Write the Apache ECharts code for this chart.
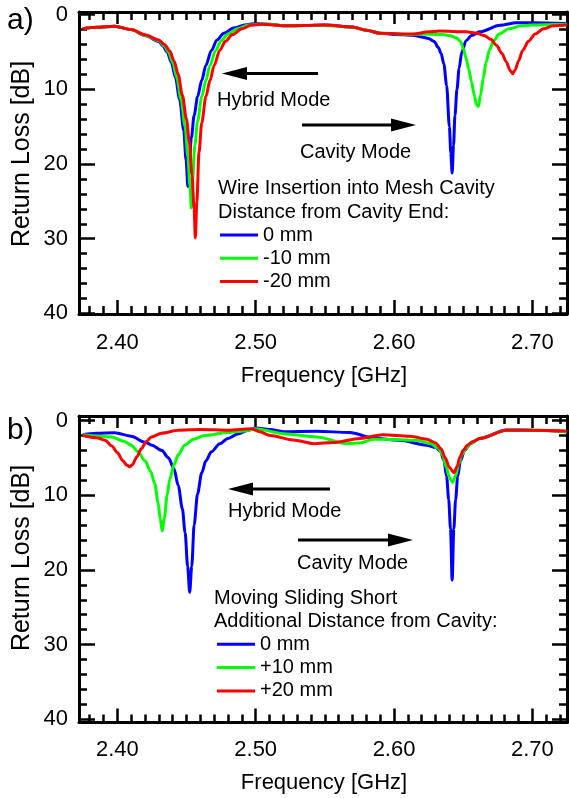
<!DOCTYPE html>
<html><head><meta charset="utf-8">
<script src="https://cdn.jsdelivr.net/npm/echarts@6/dist/echarts.min.js"></script>
<style>html,body{margin:0;padding:0;background:#fff}#c{width:569px;height:798px}</style>
</head><body><div id="c"></div>
<script>
// ---- Data (frequency GHz, return loss dB) ----
const xTicksMajor = [2.40, 2.50, 2.60, 2.70];
const xTicksMinor = [2.38,2.39,2.41,2.42,2.43,2.44,2.45,2.46,2.47,2.48,2.49,2.51,2.52,2.53,2.54,2.55,2.56,2.57,2.58,2.59,2.61,2.62,2.63,2.64,2.65,2.66,2.67,2.68,2.69,2.71,2.72];
const yTicksMajor = [0, 10, 20, 30, 40];
const yTicksMinor = [2,4,6,8,12,14,16,18,22,24,26,28,32,34,36,38];

const namesA = ['0 mm', '-10 mm', '-20 mm'];
const namesB = ['0 mm', '+10 mm', '+20 mm'];

// Panel a) wire insertion
const a_0mm = [[2.375,1.9],[2.385,1.7],[2.398,1.55],[2.410,2.0],[2.420,2.8],[2.430,3.6],[2.433,4.2],[2.436,5.0],[2.439,6.4],[2.442,8.4],[2.445,11.3],[2.448,15.5],[2.4497,19.5],[2.451,23.0],[2.452,20],[2.4535,16.5],[2.4555,13.5],[2.458,11],[2.461,8.8],[2.464,6.8],[2.468,4.8],[2.472,3.4],[2.477,2.5],[2.484,1.8],[2.492,1.4],[2.50,1.2],[2.51,1.3],[2.52,1.5],[2.535,1.45],[2.55,1.4],[2.57,1.65],[2.58,2.1],[2.59,2.5],[2.60,2.65],[2.6137,2.76],[2.620,3.0],[2.625,3.2],[2.629,3.6],[2.632,4.4],[2.634,5.2],[2.636,6.6],[2.638,9.5],[2.640,15],[2.641,18.5],[2.642,21.2],[2.643,17.5],[2.644,13.5],[2.6455,10],[2.647,7.2],[2.649,5.0],[2.652,3.5],[2.656,2.8],[2.662,2.3],[2.6766,1.43],[2.6886,1.1],[2.70,1.1],[2.725,1.2]];
const a_m10mm = [[2.375,1.9],[2.385,1.7],[2.398,1.55],[2.410,2.0],[2.420,2.75],[2.430,3.5],[2.434,4.2],[2.437,5.0],[2.440,6.4],[2.443,8.4],[2.446,11.3],[2.449,15],[2.451,19],[2.4525,23],[2.4535,25.9],[2.4545,22],[2.456,17.5],[2.458,14.3],[2.461,11],[2.464,8.8],[2.467,6.8],[2.471,4.8],[2.475,3.5],[2.480,2.6],[2.487,1.9],[2.495,1.4],[2.503,1.25],[2.51,1.3],[2.52,1.5],[2.535,1.45],[2.55,1.45],[2.57,1.7],[2.58,2.1],[2.59,2.5],[2.61,2.65],[2.62,2.6],[2.635,2.65],[2.640,2.8],[2.645,3.1],[2.648,3.6],[2.650,4.5],[2.652,5.8],[2.654,7.3],[2.656,9.0],[2.658,10.8],[2.6595,12.0],[2.661,12.3],[2.6625,10.8],[2.6645,8.5],[2.6665,6.4],[2.669,4.7],[2.672,3.5],[2.676,2.6],[2.683,1.9],[2.692,1.5],[2.70,1.4],[2.725,1.3]];
const a_m20mm = [[2.375,1.9],[2.385,1.7],[2.398,1.55],[2.410,2.0],[2.420,2.7],[2.430,3.4],[2.434,4.0],[2.438,4.9],[2.441,6.2],[2.444,8.0],[2.447,10.8],[2.450,14.0],[2.452,17.0],[2.454,21.5],[2.4555,26],[2.4564,29.9],[2.4575,25],[2.459,18.5],[2.461,14.5],[2.464,11.0],[2.467,8.8],[2.470,6.8],[2.474,4.8],[2.478,3.6],[2.483,2.7],[2.490,1.9],[2.497,1.4],[2.505,1.3],[2.52,1.5],[2.535,1.45],[2.55,1.4],[2.57,1.65],[2.58,2.1],[2.59,2.5],[2.6137,2.6],[2.625,2.3],[2.633,2.2],[2.652,2.3],[2.660,2.5],[2.665,2.8],[2.670,3.3],[2.674,4.1],[2.678,5.2],[2.681,6.3],[2.684,7.5],[2.6857,7.9],[2.6875,7.4],[2.690,6.2],[2.693,4.8],[2.697,3.6],[2.702,2.6],[2.708,1.9],[2.715,1.5],[2.725,1.4]];

// Panel b) sliding short
const b_0mm = [[2.375,1.9],[2.385,1.7],[2.398,1.63],[2.41,2.1],[2.42,2.9],[2.425,3.3],[2.432,4.0],[2.437,5.0],[2.441,6.5],[2.444,8.7],[2.447,11.8],[2.449,15],[2.4508,19.5],[2.4523,23.0],[2.4538,19.5],[2.4555,14],[2.458,9.8],[2.461,7.0],[2.464,5.4],[2.468,4.2],[2.474,3.1],[2.48,2.4],[2.487,1.8],[2.4944,1.3],[2.50,1.0],[2.51,1.2],[2.52,1.5],[2.544,1.45],[2.568,1.6],[2.585,2.35],[2.604,2.65],[2.6236,3.3],[2.630,3.6],[2.6335,4.1],[2.636,5.3],[2.638,7.5],[2.6395,10.6],[2.6408,14.5],[2.642,21.35],[2.6432,14.5],[2.6445,10.6],[2.646,7.5],[2.648,5.4],[2.651,4.0],[2.655,3.1],[2.662,2.4],[2.6813,1.27],[2.70,1.3],[2.725,1.5]];
const b_p10mm = [[2.375,1.9],[2.3957,2.2],[2.405,2.8],[2.41,3.3],[2.415,4.2],[2.42,5.4],[2.424,6.8],[2.427,8.4],[2.4295,11],[2.431,13.2],[2.4325,14.8],[2.434,13],[2.436,10],[2.438,7.8],[2.441,5.9],[2.444,4.6],[2.4487,3.3],[2.455,2.5],[2.463,2.0],[2.48,1.6],[2.492,1.4],[2.50,1.1],[2.52,1.76],[2.544,2.2],[2.5657,3.1],[2.5754,3.0],[2.585,2.5],[2.5922,2.5],[2.6163,2.65],[2.626,3.07],[2.632,3.7],[2.635,4.6],[2.6377,6.2],[2.640,7.6],[2.6423,8.3],[2.6445,7.4],[2.6468,5.8],[2.649,4.6],[2.652,3.7],[2.656,3.0],[2.662,2.4],[2.6813,1.3],[2.70,1.3],[2.725,1.5]];
const b_p20mm = [[2.375,2.0],[2.385,2.3],[2.391,2.65],[2.396,3.4],[2.400,4.3],[2.404,5.4],[2.407,6.0],[2.409,6.2],[2.411,5.9],[2.414,4.9],[2.4173,3.8],[2.421,2.8],[2.4246,2.2],[2.432,1.7],[2.444,1.3],[2.46,1.2],[2.48,1.3],[2.4966,1.1],[2.503,1.5],[2.5103,2.0],[2.527,2.6],[2.542,3.1],[2.556,2.95],[2.5754,2.4],[2.592,1.9],[2.6115,2.1],[2.6236,2.5],[2.630,3.0],[2.634,3.8],[2.637,5.0],[2.640,6.3],[2.6433,7.0],[2.6455,6.2],[2.6476,4.9],[2.650,4.0],[2.653,3.3],[2.657,2.8],[2.662,2.4],[2.6813,1.3],[2.70,1.3],[2.725,1.4]];

const colors = ['#0000ff', '#00ff00', '#ff0000'];

// ---- Layout ----
const FONT = '"Liberation Sans", Arial, sans-serif';
const XMIN = 2.3723, XMAX = 2.725;
const panels = [
  {top: 12, height: 302, ymin: -0.35, ymax: -0.35 + 302/7.47, labelMargin: 18},
  {top: 416, height: 306.5, ymin: -0.6, ymax: -0.6 + 306.5/7.47, labelMargin: 16}
];

const grids = [], xAxes = [], yAxes = [];
const line = {show: true, onZero: false, lineStyle: {color: '#000', width: 3}};
const noLine = {show: false, onZero: false};
const tk = (len, vals) => ({show: true, inside: true, length: len, customValues: vals, lineStyle: {color: '#000', width: 2.5}});
panels.forEach((p, g) => {
  grids.push({left: 79, width: 488, top: p.top, height: p.height, containLabel: false});
  const xb = {gridIndex: g, type: 'value', min: XMIN, max: XMAX, splitLine: {show: false}};
  xAxes.push(Object.assign({}, xb, {position: 'bottom', axisLine: line, axisTick: tk(14, xTicksMajor),
    axisLabel: {show: true, customValues: xTicksMajor, formatter: v => v.toFixed(2), fontSize: 22, color: '#000', fontFamily: FONT, margin: p.labelMargin}}));
  xAxes.push(Object.assign({}, xb, {position: 'bottom', axisLine: noLine, axisTick: tk(8, xTicksMinor), axisLabel: {show: false}}));
  xAxes.push(Object.assign({}, xb, {position: 'top', axisLine: line, axisTick: tk(12, xTicksMajor), axisLabel: {show: false}}));
  xAxes.push(Object.assign({}, xb, {position: 'top', axisLine: noLine, axisTick: tk(8, xTicksMinor), axisLabel: {show: false}}));
  const yb = {gridIndex: g, type: 'value', inverse: true, min: p.ymin, max: p.ymax, splitLine: {show: false}};
  yAxes.push(Object.assign({}, yb, {position: 'left', axisLine: line, axisTick: tk(16, yTicksMajor),
    axisLabel: {show: true, customValues: yTicksMajor, fontSize: 22, color: '#000', fontFamily: FONT, margin: 11}}));
  yAxes.push(Object.assign({}, yb, {position: 'left', axisLine: noLine, axisTick: tk(8, yTicksMinor), axisLabel: {show: false}}));
  yAxes.push(Object.assign({}, yb, {position: 'right', axisLine: line, axisTick: tk(15, yTicksMajor), axisLabel: {show: false}}));
  yAxes.push(Object.assign({}, yb, {position: 'right', axisLine: noLine, axisTick: tk(8, yTicksMinor), axisLabel: {show: false}}));
});

function mkSeries(name, data, ci, g) {
  return {type: 'line', name: name, data: data, xAxisIndex: g * 4, yAxisIndex: g * 4,
    showSymbol: false, smooth: 0.3, smoothMonotone: 'x', color: colors[ci], lineStyle: {width: 3, color: colors[ci]},
    clip: true, animation: false, z: 3 + ci};
}
const series = [
  mkSeries(namesA[0], a_0mm, 0, 0), mkSeries(namesA[1], a_m10mm, 1, 0), mkSeries(namesA[2], a_m20mm, 2, 0),
  mkSeries(namesB[0], b_0mm, 0, 1), mkSeries(namesB[1], b_p10mm, 1, 1), mkSeries(namesB[2], b_p20mm, 2, 1)
];

const legendBase = {orient: 'vertical', icon: 'rect', itemWidth: 38, itemHeight: 3, itemGap: 0.3, padding: 0,
  selectedMode: false, textStyle: {fontSize: 20, color: '#000', fontFamily: FONT, lineHeight: 23}};
const legends = [
  Object.assign({}, legendBase, {left: 220, top: 223.5, data: namesA}),
  Object.assign({}, legendBase, {left: 217, top: 632.8, data: namesB})
];

function txt(t, x, y, size, align, rot) {
  return {type: 'text', x: x, y: y, rotation: rot || 0, z: 10,
    style: {text: t, fill: '#000', font: size + 'px ' + FONT, align: align || 'left', verticalAlign: 'middle'}};
}
function arrow(x1, x2, y) {
  const dir = x2 > x1 ? 1 : -1;
  const base = x2 - dir * 25;
  return [
    {type: 'line', z: 10, shape: {x1: x1, y1: y, x2: base, y2: y}, style: {stroke: '#000', lineWidth: 3}},
    {type: 'polygon', z: 10, shape: {points: [[x2, y], [base, y - 6.5], [base, y + 6.5]]}, style: {fill: '#000'}}
  ];
}

const graphics = [
  txt('a)', 7, 21, 30),
  txt('b)', 7, 431, 30),
  txt('Return Loss [dB]', 22, 154, 25, 'center', Math.PI / 2),
  txt('Return Loss [dB]', 22, 558, 25, 'center', Math.PI / 2),
  txt('Frequency [GHz]', 324, 376, 22, 'center'),
  txt('Frequency [GHz]', 324, 783, 22, 'center'),
  ...arrow(318, 222, 73.5),
  txt('Hybrid Mode', 217, 100, 20),
  ...arrow(302, 416, 125),
  txt('Cavity Mode', 300, 152, 20),
  txt('Wire Insertion into Mesh Cavity', 218, 188.5, 20),
  txt('Distance from Cavity End:', 218, 212, 20),
  ...arrow(330, 228, 489),
  txt('Hybrid Mode', 228, 511.5, 20),
  ...arrow(298, 413, 540),
  txt('Cavity Mode', 297, 563, 20),
  txt('Moving Sliding Short', 214, 598, 20),
  txt('Additional Distance from Cavity:', 214, 621, 20)
];

const chart = echarts.init(document.getElementById('c'), null, {renderer: 'canvas'});
chart.setOption({
  animation: false,
  backgroundColor: '#fff',
  grid: grids, xAxis: xAxes, yAxis: yAxes,
  legend: legends,
  series: series,
  graphic: graphics
});
</script></body></html>
